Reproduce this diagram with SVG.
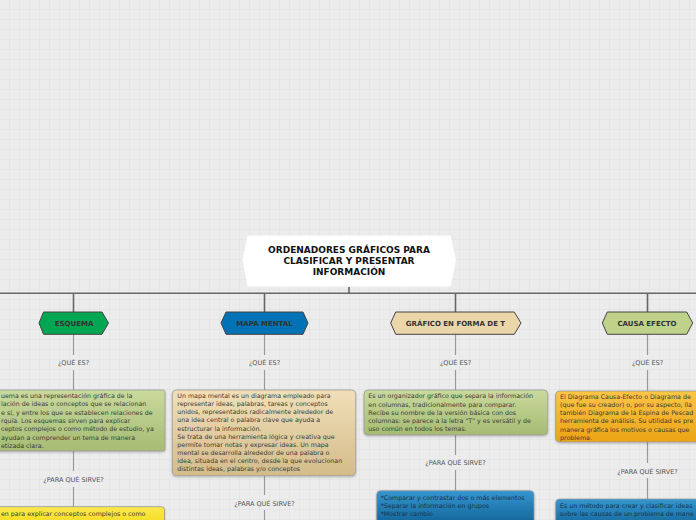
<svg xmlns="http://www.w3.org/2000/svg" width="696" height="520" viewBox="0 0 696 520">
<defs>
<pattern id="grid" width="10" height="10" patternUnits="userSpaceOnUse">
<rect width="10" height="10" fill="#ececec"/>
<path d="M10 0 V10 M0 10 H10" stroke="#e1e1e1" stroke-width="1" fill="none"/>
</pattern>
<linearGradient id="gOlive" x1="0" y1="0" x2="0" y2="1"><stop offset="0" stop-color="#c9da9c"/><stop offset="1" stop-color="#a7bb73"/></linearGradient>
<linearGradient id="gWheat" x1="0" y1="0" x2="0" y2="1"><stop offset="0" stop-color="#f1dfb9"/><stop offset="1" stop-color="#d4bc8a"/></linearGradient>
<linearGradient id="gYellow" x1="0" y1="0" x2="0" y2="1"><stop offset="0" stop-color="#fbe84c"/><stop offset="1" stop-color="#efd400"/></linearGradient>
<linearGradient id="gBlue" x1="0" y1="0" x2="0" y2="1"><stop offset="0" stop-color="#3596d0"/><stop offset="1" stop-color="#0b5a8c"/></linearGradient>
<linearGradient id="gOrange" x1="0" y1="0" x2="0" y2="1"><stop offset="0" stop-color="#fbc547"/><stop offset="1" stop-color="#eba414"/></linearGradient>
<filter id="sh" x="-5%" y="-5%" width="110%" height="120%"><feDropShadow dx="0" dy="1" stdDeviation="0.8" flood-color="#000" flood-opacity="0.25"/></filter>
</defs>
<style>
.title{font-family:"DejaVu Sans",Verdana,sans-serif;font-weight:bold;font-size:9px;fill:#111;text-anchor:middle}
.hdr{font-family:"DejaVu Sans",Verdana,sans-serif;font-weight:bold;font-size:7px;fill:#333;text-anchor:middle}
.lbl{font-family:"DejaVu Sans",Verdana,sans-serif;font-size:6.5px;fill:#555;text-anchor:middle}
.body{font-family:"DejaVu Sans",Verdana,sans-serif;font-size:6.3px;fill:#3a3a3a}
.bodyB{font-family:"DejaVu Sans",Verdana,sans-serif;font-size:6.3px;fill:#1c324a}
.hex{stroke:#444;stroke-width:1}
.box{stroke:#9a9a9a;stroke-width:0.8}
.bus{stroke:#666;stroke-width:1.6;fill:none}
.stem{stroke:#999;stroke-width:1.2;fill:none}
</style>
<rect width="696" height="520" fill="url(#grid)"/>

<g id="connectors">
<path class="bus" d="M0 293.3 H696 M349 287 V293.3 M73.5 293.3 V312 M264.5 293.3 V312 M455.5 293.3 V312 M647.5 293.3 V312"/>
<path class="stem" d="M73.5 334 V355 M73.5 370 V390 M73.5 451 V471 M73.5 487 V507"/>
<path class="stem" d="M264.5 334 V355 M264.5 370 V390 M264.5 476 V495 M264.5 510 V520"/>
<path class="stem" d="M455.5 334 V355 M455.5 370 V390 M455.5 435 V455 M455.5 470 V491"/>
<path class="stem" d="M647.5 334 V355 M647.5 370 V391 M647.5 442 V463 M647.5 478 V499"/>
</g>

<g id="title">
<polygon points="242.5,260 247.5,235.5 450.5,235.5 456,260 450.5,286.5 247.5,286.5" fill="#fff"/>
<text class="title" x="349" y="253">ORDENADORES GRÁFICOS PARA</text>
<text class="title" x="349" y="264">CLASIFICAR Y PRESENTAR</text>
<text class="title" x="349" y="275">INFORMACIÓN</text>
</g>

<g id="esquema">
<polygon class="hex" points="39,323 43.5,312 102,312 108.5,323 102,334.3 43.5,334.3" fill="#00a651"/>
<text class="hdr" x="74" y="325.5">ESQUEMA</text>
<text class="lbl" x="73.5" y="364.5">¿QUÉ ES?</text>
<rect class="box" x="-10" y="390" width="175" height="61" rx="2" fill="url(#gOlive)" filter="url(#sh)"/>
<g class="body">
<text x="1" y="398">uema es una representación gráfica de la</text>
<text x="1" y="406.3">lación de ideas o conceptos que se relacionan</text>
<text x="1" y="414.6">e sí, y entre los que se establecen relaciones de</text>
<text x="1" y="422.9">rquía. Los esquemas sirven para explicar</text>
<text x="1" y="431.2">ceptos complejos o como método de estudio, ya</text>
<text x="1" y="439.5">ayudan a comprender un tema de manera</text>
<text x="1" y="447.8">etizada clara.</text>
</g>
<text class="lbl" x="73.5" y="481.5">¿PARA QUÉ SIRVE?</text>
<rect class="box" x="-10" y="506.7" width="174.5" height="30" rx="3" fill="url(#gYellow)" filter="url(#sh)"/>
<text class="body" x="1" y="515.5">en para explicar conceptos complejos o como</text>
</g>

<g id="mapa-mental">
<polygon class="hex" points="221,323 226,312 303,312 308,323 303,334.3 226,334.3" fill="#0072b5"/>
<text class="hdr" x="264.5" y="325.5">MAPA MENTAL</text>
<text class="lbl" x="264.5" y="364.5">¿QUÉ ES?</text>
<rect class="box" x="172.3" y="390" width="183.4" height="85.7" rx="4" fill="url(#gWheat)" filter="url(#sh)"/>
<g class="body">
<text x="177.3" y="398">Un mapa mental es un diagrama empleado para</text>
<text x="177.3" y="406.1">representar ideas, palabras, tareas y conceptos</text>
<text x="177.3" y="414.3">unidos, representados radicalmente alrededor de</text>
<text x="177.3" y="422.4">una idea central o palabra clave que ayuda a</text>
<text x="177.3" y="430.6">estructurar la información.</text>
<text x="177.3" y="438.7">Se trata de una herramienta lógica y creativa que</text>
<text x="177.3" y="446.8">permite tomar notas y expresar ideas. Un mapa</text>
<text x="177.3" y="455">mental se desarrolla alrededor de una palabra o</text>
<text x="177.3" y="463.1">idea, situada en el centro, desde la que evolucionan</text>
<text x="177.3" y="471.3">distintas ideas, palabras y/o conceptos</text>
</g>
<text class="lbl" x="264.5" y="505.5">¿PARA QUÉ SIRVE?</text>
</g>

<g id="grafico-t">
<polygon class="hex" points="390.7,323 395.7,312 514.3,312 521,323 514.3,334.3 395.7,334.3" fill="#ead6a8"/>
<text class="hdr" x="455.5" y="325.5">GRÁFICO EN FORMA DE T</text>
<text class="lbl" x="455.5" y="364.5">¿QUÉ ES?</text>
<rect class="box" x="364" y="390" width="183.7" height="45" rx="4" fill="url(#gOlive)" filter="url(#sh)"/>
<g class="body">
<text x="368.3" y="398.3">Es un organizador gráfico que separa la información</text>
<text x="368.3" y="406.5">en columnas, tradicionalmente para comparar.</text>
<text x="368.3" y="414.7">Recibe su nombre de la versión básica con dos</text>
<text x="368.3" y="422.9">columnas: se parece a la letra "T" y es versátil y de</text>
<text x="368.3" y="431.1">uso común en todos los temas.</text>
</g>
<text class="lbl" x="455.5" y="465">¿PARA QUÉ SIRVE?</text>
<rect class="box" x="376.7" y="490.7" width="157.3" height="40" rx="4" fill="url(#gBlue)" filter="url(#sh)"/>
<g class="bodyB">
<text x="380.7" y="500">*Comparar y contrastar dos o más elementos</text>
<text x="380.7" y="508">*Separar la información en grupos</text>
<text x="380.7" y="516">*Mostrar cambio</text>
</g>
</g>

<g id="causa-efecto">
<polygon class="hex" points="602.3,323 607.3,312 686.7,312 692.7,323 686.7,334.3 607.3,334.3" fill="#bfd28a"/>
<text class="hdr" x="647" y="325.5">CAUSA EFECTO</text>
<text class="lbl" x="647.5" y="364.5">¿QUÉ ES?</text>
<rect class="box" x="555.7" y="391" width="160" height="51" rx="4" fill="url(#gOrange)" filter="url(#sh)"/>
<g class="body">
<text x="560" y="399">El Diagrama Causa-Efecto o Diagrama de</text>
<text x="560" y="407">(que fue su creador) o, por su aspecto, lla</text>
<text x="560" y="415.3">también Diagrama de la Espina de Pescad</text>
<text x="560" y="423.3">herramienta de análisis. Su utilidad es pre</text>
<text x="560" y="431.5">manera gráfica los motivos o causas que</text>
<text x="560" y="440">problema.</text>
</g>
<text class="lbl" x="647.5" y="473.5">¿PARA QUÉ SIRVE?</text>
<rect class="box" x="555.7" y="499" width="160" height="35" rx="4" fill="url(#gBlue)" filter="url(#sh)"/>
<g class="bodyB">
<text x="560" y="508.3">Es un método para crear y clasificar ideas</text>
<text x="560" y="516.3">sobre las causas de un problema de mane</text>
</g>
</g>
</svg>
